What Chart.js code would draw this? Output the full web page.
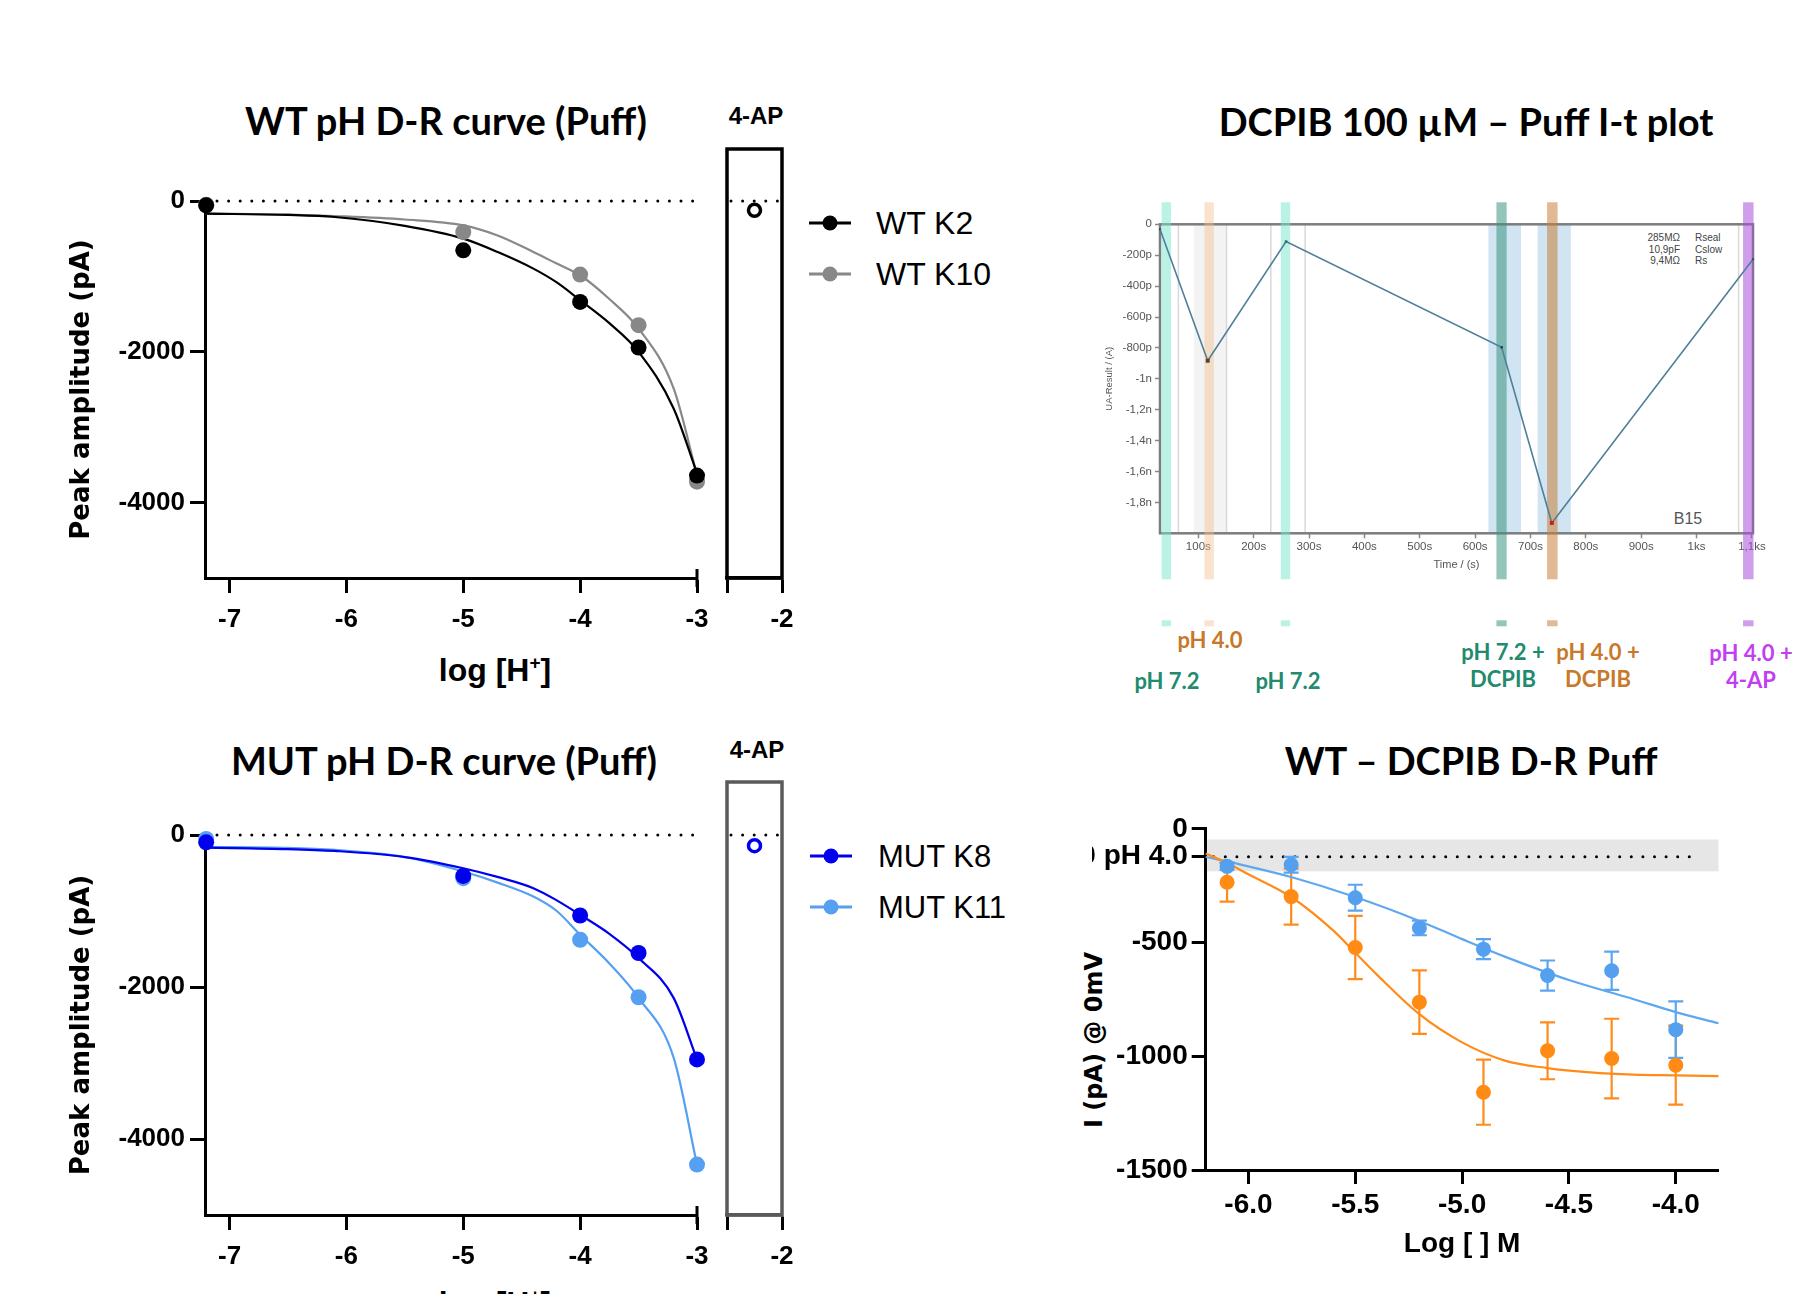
<!DOCTYPE html>
<html>
<head>
<meta charset="utf-8">
<title>pH D-R curves and DCPIB</title>
<script src="https://cdn.jsdelivr.net/npm/chart.js@4.4.1/dist/chart.umd.min.js"></script>
<style>
  html, body { margin: 0; padding: 0; background: #fff; }
  body { position: relative; width: 1818px; height: 1294px; overflow: hidden; font-family: 'Liberation Sans', Arial, sans-serif; color: #000; }
  canvas { position: absolute; }
  .t { position: absolute; white-space: nowrap; transform: translate(-50%, -50%); line-height: 1; }
  .title { font-family: Lato, 'Open Sans', sans-serif; font-weight: 700; font-size: 38px; }
  .ap { font-weight: 700; font-size: 24px; }
  .xt { font-weight: 700; font-size: 32px; }
  .xt sup { font-size: 19px; vertical-align: 12px; line-height: 0; }
  .leg { position: absolute; font-size: 32px; line-height: 1; transform: translateY(-50%); white-space: nowrap; }
  .legline { position: absolute; height: 3px; width: 42px; transform: translateY(-50%); }
  .legdot { position: absolute; width: 15px; height: 15px; border-radius: 50%; transform: translate(-50%, -50%); }
  .lab { font-family: Lato, sans-serif; font-weight: 700; font-size: 22px; text-align: center; line-height: 27px; }
  .info { position: absolute; font-size: 10px; color: #444; line-height: 11.7px; white-space: pre; }
  .ytitle { position: absolute; font-family: 'DejaVu Sans', sans-serif; font-weight: 700; font-size: 24px; transform: translate(-50%, -50%) rotate(-90deg); white-space: nowrap; line-height: 1; }
</style>
</head>
<body>

<!-- titres et légendes -->
<div class="t title" style="left:446px; top:120px;">WT pH D-R curve (Puff)</div>
<div class="t ap" style="left:756px; top:116px;">4-AP</div>
<div class="t xt" style="left:495px; top:670px;">log [H<sup>+</sup>]</div>
<div class="legline" style="left:809px; top:223px; background:#000;"></div>
<div class="legdot" style="left:830px; top:223px; background:#000;"></div>
<div class="leg" style="left:876px; top:223px;">WT K2</div>
<div class="legline" style="left:809px; top:274px; background:#888;"></div>
<div class="legdot" style="left:830px; top:274px; background:#888;"></div>
<div class="leg" style="left:876px; top:274px;">WT K10</div>

<div class="t title" style="left:444px; top:760px;">MUT pH D-R curve (Puff)</div>
<div class="t ap" style="left:757px; top:750px;">4-AP</div>
<div class="t xt" style="left:495px; top:1303px;">log [H<sup>+</sup>]</div>
<div class="legline" style="left:810px; top:856px; background:#0000ee;"></div>
<div class="legdot" style="left:831px; top:856px; background:#0000ee;"></div>
<div class="leg" style="left:878px; top:856px; font-size:31px;">MUT K8</div>
<div class="legline" style="left:810px; top:907px; background:#55a0f0;"></div>
<div class="legdot" style="left:831px; top:907px; background:#55a0f0;"></div>
<div class="leg" style="left:878px; top:907px; font-size:31px;">MUT K11</div>

<div class="t title" style="left:1466px; top:121px;">DCPIB 100 µM – Puff I-t plot</div>
<div class="info" style="left:1600px; top:232px; width:80px; text-align:right;">285MΩ
10,9pF
9,4MΩ</div>
<div class="info" style="left:1695px; top:232px;">Rseal
Cslow
Rs</div>
<div class="t" style="left:1688px; top:519px; font-size:16px; color:#555;">B15</div>
<div class="t lab" style="left:1210px; top:639px; color:#c8782a;">pH 4.0</div>
<div class="t lab" style="left:1167px; top:680px; color:#238a6e;">pH 7.2</div>
<div class="t lab" style="left:1288px; top:680px; color:#238a6e;">pH 7.2</div>
<div class="t lab" style="left:1503px; top:665px; color:#238a6e;">pH 7.2 +<br>DCPIB</div>
<div class="t lab" style="left:1598px; top:665px; color:#c8782a;">pH 4.0 +<br>DCPIB</div>
<div class="t lab" style="left:1751px; top:666px; color:#c23ff0;">pH 4.0 +<br>4-AP</div>

<div class="t title" style="left:1471px; top:760px;">WT – DCPIB D-R Puff</div>
<div class="ytitle" style="left:1094px; top:1040px;">I (pA) @ 0mV</div>

<script>
// ---- WT / MUT : courbes dose-réponse au pH (Puff) ----
const phX = [-7.2, -5, -4, -3.5, -3];
const phTicks = [-7, -6, -5, -4, -3];
const phYTicks = [0, -2000, -4000];
const fitX = [-7.21, -6.5, -6.1, -5.5, -5, -4.7, -4.4, -4.2, -4, -3.75, -3.5, -3.2, -3];

const wtK2 = [-58, -654, -1338, -1943, -3642];
const wtK10 = [-50, -411, -976, -1647, -3722];
const wtK2Fit = [-168, -185, -212, -330, -499, -680, -897, -1080, -1316, -1620, -2000, -2751, -3612];
const wtK10Fit = [-165, -180, -199, -245, -323, -460, -676, -830, -985, -1300, -1691, -2486, -3634];
const wt4AP = -123;

const mutK8 = [-96, -538, -1059, -1553, -2953];
const mutK11 = [-52, -568, -1378, -2135, -4337];
const mutK8Fit = [-166, -185, -210, -290, -437, -555, -700, -860, -1050, -1300, -1618, -2143, -2953];
const mutK11Fit = [-155, -170, -197, -290, -481, -630, -810, -1000, -1312, -1690, -2143, -2930, -4337];
const mut4AP = -140;

// ---- DCPIB 100 µM : tracé I-t (courant en pA, temps en s) ----
const itTime = [30.8, 117, 258.5, 648, 738.6, 1102];
const itCurrent = [-32, -883, -112, -796, -1933, -226];
const itXTicks = [100, 200, 300, 400, 500, 600, 700, 800, 900, 1000, 1100];
const itYTicks = [0, -200, -400, -600, -800, -1000, -1200, -1400, -1600, -1800];
const washBands = [[33.8, 50.6], [249, 266]];   // pH 7.2
const acidBand = [[111, 128]];                   // pH 4.0
const dcpibNeutralBand = [[638.5, 657]];         // pH 7.2 + DCPIB
const dcpibAcidBand = [[730, 749]];              // pH 4.0 + DCPIB
const apBand = [[1084, 1103]];                   // pH 4.0 + 4-AP
const dcpibZones = [[624, 683], [713, 773]];
const greyZone = [[92, 151]];
const greyLines = [64, 151, 231, 293, 1076];

// ---- WT – DCPIB D-R Puff ----
const logConc = [-6.1, -5.8, -5.5, -5.2, -4.9, -4.6, -4.3, -4.0];
const blueMean = [-165, -158, -303, -436, -529, -645, -624, -883];
const blueSem = [16, 35, 57, 32, 44, 66, 84, 124];
const orangeMean = [-235, -298, -522, -762, -1158, -976, -1010, -1039];
const orangeSem = [85, 123, 139, 140, 143, 125, 175, 174];
const blueFitX = [-6.2, -6.1, -6.0, -5.8, -5.5, -5.2, -5.0, -4.8, -4.5, -4.2, -4.0, -3.8];
const blueFit = [-124, -143, -165, -212, -300, -405, -485, -562, -665, -748, -806, -855];
const orangeFitX = [-6.2, -6.1, -6.0, -5.8, -5.6, -5.5, -5.4, -5.2, -5.0, -4.8, -4.6, -4.4, -4.2, -4.0, -3.8];
const orangeFit = [-109, -150, -200, -300, -450, -545, -640, -815, -939, -1019, -1052, -1071, -1081, -1084, -1087];
const ph4Ref = -123;
const ph4Band = [-47, -187];
const drXTicks = [-6, -5.5, -5, -4.5, -4];
const drYTicks = [0, -123, -500, -1000, -1500];

Chart.defaults.font.family = "'Liberation Sans', Arial, sans-serif";
Chart.defaults.color = '#000';
Chart.defaults.animation = false;
Chart.defaults.responsive = false;
Chart.defaults.plugins.legend.display = false;
Chart.defaults.plugins.tooltip.enabled = false;
Chart.defaults.layout.autoPadding = false;

function mkCanvas(left, top, w, h) {
    const c = document.createElement('canvas');
    c.width = w; c.height = h;
    c.style.left = left + 'px'; c.style.top = top + 'px';
    c.style.width = w + 'px'; c.style.height = h + 'px';
    document.body.appendChild(c);
    return c.getContext('2d');
}
function xy(xs, ys) { return xs.map((x, i) => ({ x: x, y: ys[i] })); }
function fixedTicks(list) { return s => { s.ticks = list.map(v => ({ value: v })); }; }

// ligne pointillée
function dotted(ctx, x0, x1, y) {
    ctx.save();
    ctx.strokeStyle = '#000'; ctx.lineWidth = 3; ctx.lineCap = 'round';
    ctx.setLineDash([0, 11.6]);
    ctx.beginPath(); ctx.moveTo(x0, y); ctx.lineTo(x1, y); ctx.stroke();
    ctx.restore();
}

// ligne du zéro, cadre 4-AP, fin d'axe
const zeroLine = {
    id: 'zeroLine',
    beforeDatasetsDraw(chart, args, opts) {
        const { ctx, chartArea: a, scales } = chart;
        if (opts.box) {
            ctx.save(); ctx.strokeStyle = opts.box; ctx.lineWidth = 3.5;
            ctx.strokeRect(a.left, a.top, a.right - a.left, a.bottom - a.top);
            ctx.restore();
        }
        dotted(ctx, a.left + (opts.inset || 4), a.right - 2, scales.y.getPixelForValue(0));
        if (opts.cap) {
            ctx.save(); ctx.strokeStyle = '#000'; ctx.lineWidth = 3;
            ctx.beginPath(); ctx.moveTo(a.right, a.bottom - 9); ctx.lineTo(a.right, a.bottom + 9); ctx.stroke();
            ctx.restore();
        }
    }
};

function phPanel(d) {
    const axisFont = { size: 26, weight: 'bold' };
    const grid = { drawOnChartArea: false, tickLength: 15, tickWidth: 3, tickColor: '#000' };
    const mainTop = d.areaTop - 51;
    new Chart(mkCanvas(0, mainTop, 720, d.areaBottom + 110 - mainTop), {
        type: 'scatter',
        data: {
            datasets: [
                { data: xy(phX, d.a), pointRadius: 8, backgroundColor: d.colA, borderColor: d.colA, pointBorderWidth: 0, clip: false },
                { data: xy(phX, d.b), pointRadius: 8, backgroundColor: d.colB, borderColor: d.colB, pointBorderWidth: 0, clip: false },
                { data: xy(fitX, d.fitA), showLine: true, borderColor: d.colA, borderWidth: 2.2, pointRadius: 0, cubicInterpolationMode: 'monotone', clip: false },
                { data: xy(fitX, d.fitB), showLine: true, borderColor: d.colB, borderWidth: 2.2, pointRadius: 0, cubicInterpolationMode: 'monotone', clip: false }
            ]
        },
        options: {
            layout: { padding: { left: 0, top: 51, right: 23, bottom: 0 } },
            plugins: { zeroLine: { inset: 12, cap: true } },
            scales: {
                x: {
                    type: 'linear', min: -7.21, max: -3,
                    afterBuildTicks: fixedTicks(phTicks), afterFit: s => { s.height = 110; },
                    grid: grid, border: { width: 3, color: '#000' },
                    ticks: { font: axisFont, padding: 11, callback: v => String(v) }
                },
                y: {
                    type: 'linear', min: -5000, max: 0,
                    afterBuildTicks: fixedTicks(phYTicks), afterFit: s => { s.width = 205; },
                    grid: grid, border: { width: 3, color: '#000' },
                    ticks: { font: axisFont, padding: 5, callback: v => String(v) },
                    title: { display: true, text: 'Peak amplitude (pA)', font: { family: "'DejaVu Sans', sans-serif", size: 26, weight: 'bold' }, padding: { top: 67, bottom: 0 } }
                }
            }
        },
        plugins: [zeroLine]
    });

    // segment 4-AP après la coupure d'axe
    const apTop = d.boxTop - 49;
    const apMax = (d.areaTop - d.boxTop) / (d.areaBottom - d.areaTop) * 5000;
    new Chart(mkCanvas(702, apTop, 110, d.areaBottom + 110 - apTop), {
        type: 'scatter',
        data: {
            datasets: [{ data: [{ x: -2.3, y: d.ap }], pointRadius: 6, backgroundColor: '#fff', borderColor: d.colA, pointBorderWidth: 3.5, clip: false }]
        },
        options: {
            layout: { padding: { left: 25, top: 49, right: 30, bottom: 0 } },
            plugins: { zeroLine: { box: d.boxColor } },
            scales: {
                x: {
                    type: 'linear', min: -2.6, max: -2,
                    afterBuildTicks: fixedTicks([-2.6, -2]), afterFit: s => { s.height = 110; },
                    grid: grid, border: { width: 3.5, color: d.boxColor },
                    ticks: { font: axisFont, padding: 11, callback: v => (v === -2 ? '-2' : '') }
                },
                y: { display: false, min: -5000, max: apMax }
            }
        },
        plugins: [zeroLine]
    });
}

phPanel({ areaTop: 201, areaBottom: 578, boxTop: 149, a: wtK2, b: wtK10, fitA: wtK2Fit, fitB: wtK10Fit,
          colA: '#000', colB: '#888', ap: wt4AP, boxColor: '#000' });
phPanel({ areaTop: 835, areaBottom: 1215, boxTop: 782, a: mutK8, b: mutK11, fitA: mutK8Fit, fitB: mutK11Fit,
          colA: '#0000ee', colB: '#55a0f0', ap: mut4AP, boxColor: '#5a5a5a' });

// ---- tracé I-t ----
const bands = {
    id: 'bands',
    beforeDatasetsDraw(chart) {
        const { ctx, chartArea: a, scales: { x } } = chart;
        const px = t => x.getPixelForValue(t);
        const fill = (list, y0, y1, color) => {
            ctx.fillStyle = color;
            list.forEach(([s, e]) => ctx.fillRect(px(s), y0, px(e) - px(s), y1 - y0));
        };
        ctx.save();
        fill(greyZone, a.top, a.bottom, '#f3f3f3');
        ctx.strokeStyle = '#d9d9d9'; ctx.lineWidth = 1.5;
        greyLines.forEach(t => { ctx.beginPath(); ctx.moveTo(px(t), a.top); ctx.lineTo(px(t), a.bottom); ctx.stroke(); });
        fill(dcpibZones, a.top, a.bottom, 'rgba(150,195,225,0.45)');
        ctx.strokeStyle = '#7d7d7d'; ctx.lineWidth = 2.5;
        ctx.strokeRect(a.left, a.top, a.right - a.left, a.bottom - a.top);
        const tall = [
            [washBands, 'rgba(120,230,205,0.5)'],
            [acidBand, 'rgba(245,190,140,0.45)'],
            [dcpibNeutralBand, 'rgba(60,150,130,0.55)'],
            [dcpibAcidBand, 'rgba(200,130,60,0.55)'],
            [apBand, 'rgba(170,80,220,0.55)']
        ];
        tall.forEach(([list, c]) => {
            fill(list, a.top - 22, a.bottom + 46, c);
            fill(list, a.bottom + 87, a.bottom + 93, c);
        });
        ctx.restore();
    }
};

const smallFont = { size: 11.5 };
const itGrid = { drawOnChartArea: false, tickLength: 5, tickWidth: 1.5, tickColor: '#888' };
new Chart(mkCanvas(1080, 160, 720, 560), {
    type: 'scatter',
    data: {
        datasets: [{
            data: xy(itTime, itCurrent), showLine: true, borderColor: '#4f7f99', borderWidth: 1.6,
            pointStyle: 'rect', pointRadius: [1.5, 2.8, 1.8, 1.8, 2.8, 1.5], pointBorderWidth: 0,
            pointBackgroundColor: ['#2a4f66', '#5a4030', '#2a6f6a', '#1f4f5f', '#d02010', '#2a4f66'], clip: false
        }]
    },
    options: {
        layout: { padding: { left: 0, top: 64.3, right: 47, bottom: 126.7 } },
        scales: {
            x: {
                type: 'linear', min: 30.8, max: 1102,
                afterBuildTicks: fixedTicks(itXTicks), afterFit: s => { s.height = 60; },
                grid: itGrid, border: { display: false },
                ticks: { font: smallFont, color: '#555', padding: 2,
                         callback: v => (v < 1000 ? v + 's' : String(v / 1000).replace('.', ',') + 'ks') },
                title: { display: true, text: 'Time / (s)', font: { size: 11 }, color: '#555', padding: { top: 0, bottom: 22 } }
            },
            y: {
                type: 'linear', min: -2000, max: 0,
                afterBuildTicks: fixedTicks(itYTicks), afterFit: s => { s.width = 80; },
                grid: itGrid, border: { display: false },
                ticks: { font: smallFont, color: '#555', padding: 3,
                         callback: v => (v === 0 ? '0' : v > -1000 ? v + 'p' : String(v / 1000).replace('.', ',') + 'n') },
                title: { display: true, text: 'UA-Result / (A)', font: { size: 9.5 }, color: '#555', padding: { top: 24, bottom: 0 } }
            }
        }
    },
    plugins: [bands]
});

// ---- WT – DCPIB D-R ----
const refBand = {
    id: 'refBand',
    beforeDatasetsDraw(chart) {
        const { ctx, chartArea: a, scales: { x, y } } = chart;
        ctx.save();
        ctx.fillStyle = '#e6e6e6';
        const y0 = y.getPixelForValue(ph4Band[0]), y1 = y.getPixelForValue(ph4Band[1]);
        ctx.fillRect(a.left + 1.5, y0, a.right - a.left - 1.5, y1 - y0);
        ctx.restore();
        dotted(ctx, a.left + 8, a.right - 24, y.getPixelForValue(ph4Ref));
        // barres d'erreur
        [[orangeMean, orangeSem, '#ff8c1a'], [blueMean, blueSem, '#5aa5f0']].forEach(([m, e, c]) => {
            ctx.save();
            ctx.strokeStyle = c; ctx.lineWidth = 2.2;
            logConc.forEach((lc, i) => {
                const px = x.getPixelForValue(lc);
                const top = y.getPixelForValue(m[i] + e[i]), bot = y.getPixelForValue(m[i] - e[i]);
                ctx.beginPath();
                ctx.moveTo(px, top); ctx.lineTo(px, bot);
                ctx.moveTo(px - 7.5, top); ctx.lineTo(px + 7.5, top);
                ctx.moveTo(px - 7.5, bot); ctx.lineTo(px + 7.5, bot);
                ctx.stroke();
            });
            ctx.restore();
        });
    }
};

const drFont = { size: 28, weight: 'bold' };
const drGrid = { drawOnChartArea: false, tickLength: 14, tickWidth: 3, tickColor: '#000' };
new Chart(mkCanvas(1092, 780, 726, 514), {
    type: 'scatter',
    data: {
        datasets: [
            { data: xy(logConc, orangeMean), pointRadius: 7.5, backgroundColor: '#ff8a14', borderColor: '#ff8a14', pointBorderWidth: 0, clip: false },
            { data: xy(logConc, blueMean), pointRadius: 7.5, backgroundColor: '#55a0ee', borderColor: '#55a0ee', pointBorderWidth: 0, clip: false },
            { data: xy(orangeFitX, orangeFit), showLine: true, borderColor: '#ff8c1a', borderWidth: 2.2, pointRadius: 0, cubicInterpolationMode: 'monotone', clip: false },
            { data: xy(blueFitX, blueFit), showLine: true, borderColor: '#5fa8f0', borderWidth: 2.2, pointRadius: 0, cubicInterpolationMode: 'monotone', clip: false }
        ]
    },
    options: {
        layout: { padding: { left: 0, top: 48.8, right: 99.5, bottom: 24 } },
        scales: {
            x: {
                type: 'linear', min: -6.2, max: -3.8,
                afterBuildTicks: fixedTicks(drXTicks), afterFit: s => { s.height = 100; },
                grid: drGrid, border: { width: 3, color: '#000' },
                ticks: { font: drFont, padding: 4, callback: v => v.toFixed(1) },
                title: { display: true, text: 'Log [ ] M', font: drFont, padding: { top: 0, bottom: 9 } }
            },
            y: {
                type: 'linear', min: -1500, max: 0,
                afterBuildTicks: fixedTicks(drYTicks), afterFit: s => { s.width = 113.7; },
                grid: drGrid, border: { width: 3, color: '#000' },
                ticks: { font: drFont, padding: 4, callback: v => (v === ph4Ref ? '0 pH 4.0' : String(v)) }
            }
        }
    },
    plugins: [refBand]
});
</script>
</body>
</html>
